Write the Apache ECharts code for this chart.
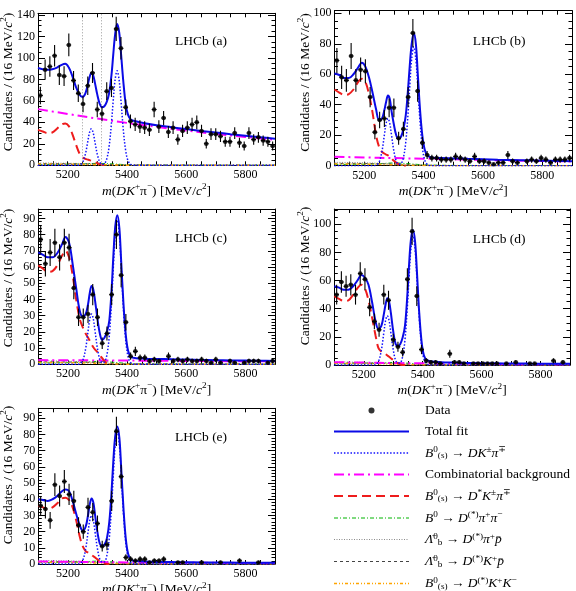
<!DOCTYPE html>
<html>
<head>
<meta charset="utf-8">
<script src="https://cdn.jsdelivr.net/npm/echarts@6.0.0/dist/echarts.min.js"></script>
<style>
  html, body { margin: 0; padding: 0; background: #fff; }
  #chart { width: 576px; height: 591px; }
</style>
</head>
<body>
<div id="chart"></div>
<script>
// binning of m(DK+pi-): 50 bins of 16 MeV from 5100 to 5900
const binLo = 5100
const binW = 16
const xLabels = [5200, 5400, 5600, 5800]

// data (candidates per bin)
const countsA = [65, 89, 92, 102, 84, 83, 112, 79, 67, 57, 74, 86, 52, 48, 69, 72, 127, 109, 54,
  41, 38, 36, 35, 33, 52, 36, 44, 31, 35, 24, 32, 35, 38, 40, 32, 20, 29, 29, 27, 22, 22, 30, 21, 18, 30, 24, 26, 23, 22, 18]
const countsB = [69, 58, 56, 72, 56, 63, 62, 45, 22, 30, 31, 38, 38, 18, 24, 45, 87, 49, 15,
  7, 5, 5, 4, 4, 4, 6, 5, 4, 3, 6, 3, 3, 2, 1, 2, 2, 7, 3, 2, 0, 3, 4, 3, 5, 4, 2, 4, 4, 4, 5]
const countsC = [77, 62, 69, 75, 66, 75, 72, 47, 29, 29, 31, 43, 29, 13, 19, 43, 80, 55, 26,
  5, 8, 4, 4, 2, 3, 2, 0, 5, 2, 3, 2, 3, 2, 2, 3, 2, 1, 3, 1, 0, 2, 1, 0, 1, 2, 2, 2, 0, 1, 2]
const countsD = [50, 59, 56, 57, 50, 65, 61, 41, 31, 25, 50, 46, 18, 13, 9, 61, 95, 49, 11,
  3, 2, 2, 1, 0, 8, 2, 2, 1, 0, 1, 1, 1, 1, 1, 1, 0, 1, 0, 2, 0, 0, 1, 1, 0, 0, 0, 3, 0, 2, 0]
const countsE = [36, 34, 27, 49, 42, 51, 43, 39, 24, 20, 35, 32, 25, 11, 12, 39, 82, 54, 4,
  3, 2, 3, 3, 1, 2, 2, 3, 0, 0, 1, 1, 0, 0, 0, 1, 0, 0, 0, 1, 0, 0, 0, 2, 0, 0, 0, 1, 0, 0, 0]

// fit curves, sampled at fitX
const fitX = [5100, 5116, 5132, 5148, 5164, 5180, 5192, 5204, 5216, 5228, 5240, 5250, 5260, 5268, 5274,
  5280, 5286, 5292, 5300, 5308, 5316, 5324, 5332, 5340, 5348, 5354, 5360, 5367, 5374, 5380,
  5388, 5396, 5404, 5414, 5430, 5460, 5500, 5550, 5600, 5650, 5700, 5750, 5800, 5850, 5900]

const totalA = [90.5, 89.5, 89, 89.5, 91, 93.5, 94.5, 91, 83, 73, 66, 63.5, 67, 75, 82,
  86, 84, 77, 66, 57.5, 54, 55, 59, 67, 84, 103, 121, 131.5, 124, 105,
  78, 57, 47, 42.5, 41, 39.2, 37.3, 35.5, 33.7, 32, 30.5, 29, 27.6, 26.2, 24.8]
const totalB = [60.5, 59.5, 57.5, 57.5, 60, 64.5, 67.5, 65, 58, 48, 37, 30, 31, 36.5, 42,
  46, 44, 36, 27, 20, 17.5, 19, 24, 33, 51, 67, 80, 87, 80, 62,
  37, 19.5, 10.5, 6.5, 5.3, 5, 4.8, 4.5, 4.2, 3.9, 3.7, 3.5, 3.3, 3.1, 3.0]
const totalC = [69, 67.5, 66, 66, 68.5, 74, 78.5, 75, 62, 47, 33, 29.5, 31, 37, 44,
  48.3, 46, 39, 28, 19, 15, 16.5, 20, 27, 47, 68, 85, 92, 84, 64,
  37, 17.5, 8, 4.5, 3.8, 3.5, 3.3, 3.1, 2.9, 2.7, 2.5, 2.4, 2.3, 2.2, 2.1]
const totalD = [56, 55, 53.5, 53.5, 56, 60.5, 64, 62, 57, 45, 31, 25.5, 28, 36, 43,
  47.5, 45, 37, 24, 15, 13.5, 15, 19.5, 28, 50, 72, 89, 96, 88, 68,
  38, 17, 7, 3.5, 2.5, 2.0, 1.7, 1.5, 1.3, 1.2, 1.1, 1.0, 0.9, 0.85, 0.8]
const totalE = [40, 39.5, 39, 40, 42, 45, 46, 45, 39, 31, 24, 20.5, 23, 30, 37,
  40.5, 38, 30, 19.5, 12.5, 11, 12, 16, 26, 46, 65, 79, 85, 78, 60,
  34, 15, 6, 2.5, 1.8, 1.5, 1.3, 1.2, 1.1, 1.0, 0.9, 0.85, 0.8, 0.75, 0.7]

const sigA = [0, 0, 0, 0, 0, 0, 0, 0, 0, 0, 0.3, 2.4, 10.5, 22, 30.6,
  34, 30.6, 22, 10.5, 3.3, 0.8, 1.5, 5.8, 17.4, 39.4, 60.5, 79, 88, 79, 60.5,
  33, 13.6, 4.2, 0.7, 0, 0, 0, 0, 0, 0, 0, 0, 0, 0, 0]
const sigB = [0, 0, 0, 0, 0, 0, 0, 0, 0, 0, 0.3, 2.2, 9.6, 20.2, 27.9,
  31, 27.9, 20.2, 9.6, 3, 1.0, 1.35, 5.1, 15.4, 35, 53.6, 70, 78, 70, 53.6,
  29.3, 12, 3.7, 0.6, 0, 0, 0, 0, 0, 0, 0, 0, 0, 0, 0]
const sigC = [0, 0, 0, 0, 0, 0, 0, 0, 0, 0, 0.3, 2.2, 9.6, 20.2, 27.9,
  31, 27.9, 20.2, 9.6, 3, 1.0, 1.5, 5.9, 17.6, 39.9, 61.1, 79.8, 89, 79.8, 61.1,
  33.4, 13.7, 4.3, 0.7, 0, 0, 0, 0, 0, 0, 0, 0, 0, 0, 0]
const sigD = [0, 0, 0, 0, 0, 0, 0, 0, 0, 0, 0.3, 2.5, 10.9, 22.8, 31.5,
  35, 31.5, 22.8, 10.9, 3.4, 1.35, 1.6, 6.1, 18.2, 41.2, 63.2, 82.5, 92, 82.5, 63.2,
  34.5, 14.2, 4.4, 0.7, 0, 0, 0, 0, 0, 0, 0, 0, 0, 0, 0]
const sigE = [0, 0, 0, 0, 0, 0, 0, 0, 0, 0, 0.3, 2.1, 9.3, 19.5, 27,
  30, 27, 19.5, 9.3, 2.9, 1.2, 1.4, 5.4, 16.2, 36.7, 56.3, 73.6, 82, 73.6, 56.3,
  30.8, 12.6, 3.9, 0.6, 0, 0, 0, 0, 0, 0, 0, 0, 0, 0, 0]

// B0(s) -> D* K pi (only below 5340)
const dstA = [33, 31.5, 30, 30.5, 34, 38, 39, 36.5, 29, 19.5, 11, 7.5, 6, 5.3, 4.8,
  4.2, 3.6, 2.9, 2, 1.2, 0.6, 0.2, 0, 0]
const dstB = [50, 48, 46.5, 47, 50, 55, 57, 55, 47, 35, 20, 12.5, 9, 8, 7.3,
  6.8, 6, 4.8, 3.2, 2, 1, 0.3, 0, 0]
const dstC = [61, 59, 57, 57.5, 61, 67, 70, 66, 55, 40, 28, 23, 19, 16.5, 14.5,
  12.5, 10.5, 9, 7.5, 5.5, 3.8, 2, 0.7, 0]
const dstD = [49, 47, 45.5, 46, 50, 55, 57, 54.5, 46, 34, 21, 12, 9.5, 8.5, 7.8,
  6.8, 5.8, 4.8, 3.5, 2.2, 1.2, 0.4, 0, 0]
const dstE = [36, 35, 34, 35, 37.5, 40.5, 41, 39.5, 35, 27, 17, 11, 8, 7, 6.3,
  5.6, 4.8, 4, 2.8, 1.7, 0.8, 0.3, 0, 0]

// combinatorial background, sampled at bkgX
const bkgX = [5100, 5200, 5300, 5400, 5500, 5600, 5700, 5800, 5900]
const combA = [52.3, 47.8, 43.5, 39.5, 35.8, 32.3, 29.2, 26.4, 23.8]
const combB = [5.9, 5.4, 5.0, 4.6, 4.2, 3.8, 3.4, 3.1, 2.8]
const combC = [2.6, 2.5, 2.4, 2.3, 2.2, 2.1, 2.0, 1.9, 1.8]
const combD = [2.0, 1.7, 1.4, 1.2, 1.0, 0.8, 0.6, 0.5, 0.4]
const combE = [1.6, 1.4, 1.2, 1.0, 0.9, 0.8, 0.7, 0.6, 0.5]

// small peaking backgrounds (same shape in every panel), sampled at lowX
const lowX = [5100, 5150, 5200, 5250, 5300, 5350, 5400, 5500, 5900]
const bgDpipi = [0.8, 0.9, 1.0, 1.3, 1.8, 1.3, 0.6, 0.2, 0.1]
const bgLbDpip = [2.2, 2.1, 1.9, 1.6, 1.0, 0.5, 0.2, 0.1, 0]
const bgLbDKp = [1.5, 1.5, 1.4, 1.3, 1.0, 0.6, 0.3, 0.1, 0]
const bgDKK = [1.2, 1.1, 1.0, 0.9, 0.6, 0.3, 0.1, 0, 0]

// vertical guide lines in panel (a)
const guidesA = [5248, 5312]

const SERIF = "'Liberation Serif', 'DejaVu Serif', serif"
const N_DATA = 'Data'
const N_TOT = 'Total fit'
const N_SIG = 'B0(s) -> DKpi'
const N_COMB = 'Combinatorial background'
const N_DST = 'B0(s) -> D*Kpi'
const N_DPP = 'B0 -> D(*)pipi'
const N_LDP = 'Lb -> D(*)pip'
const N_LDK = 'Lb -> D(*)Kp'
const N_DKK = 'B0(s) -> D(*)KK'

function rich (size, lh) {
  const sl = Math.round(lh * 0.58)
  return {
    n: { fontFamily: SERIF, fontSize: size, lineHeight: lh, color: '#000' },
    i: { fontFamily: SERIF, fontSize: size, fontStyle: 'italic', lineHeight: lh, color: '#000' },
    sup: { fontFamily: SERIF, fontSize: size * 0.68, lineHeight: sl, verticalAlign: 'top', color: '#000' },
    sub: { fontFamily: SERIF, fontSize: size * 0.68, lineHeight: sl, verticalAlign: 'bottom', color: '#000' },
    sp: { width: 11, fontSize: size, lineHeight: lh }
  }
}

const legendText = {}
legendText[N_DATA] = '{n|Data}'
legendText[N_TOT] = '{n|Total fit}'
legendText[N_SIG] = '{i|B}{sup|0}{sub|(s)}{n| → }{i|DK}{sup|±}{i|π}{sup|∓}'
legendText[N_COMB] = '{n|Combinatorial background}'
legendText[N_DST] = '{i|B}{sup|0}{sub|(s)}{n| → }{i|D}{sup|*}{i|K}{sup|±}{i|π}{sup|∓}'
legendText[N_DPP] = '{i|B}{sup|0}{n| → }{i|D}{sup|(*)}{i|π}{sup|+}{i|π}{sup|−}'
legendText[N_LDP] = '{i|Λ̄}{sup|0}{sub|b}{n| → }{i|D}{sup|(*)}{i|π}{sup|+}{i|p̄}'
legendText[N_LDK] = '{i|Λ̄}{sup|0}{sub|b}{n| → }{i|D}{sup|(*)}{i|K}{sup|+}{i|p̄}'
legendText[N_DKK] = '{i|B}{sup|0}{sub|(s)}{n| → }{i|D}{sup|(*)}{i|K}{sup|+}{i|K}{sup|−}'

const xTitle = '{i|m}{n|(}{i|DK}{sup|+}{n|π}{sup|−}{n|) [MeV/}{i|c}{sup|2}{n|]}'
const yTitle = '{n|Candidates / (16 MeV/}{i|c}{sup|2}{n|)}'

const panels = [
  { grid: { left: 38, top: 13.3, width: 237, height: 152 }, yMax: 141.5, yStep: 20, ySplit: 4,
    counts: countsA, total: totalA, sig: sigA, dst: dstA, comb: combA, guides: guidesA,
    tag: 'LHCb (a)', tagAt: [175, 41.7], yTitleAt: [8.3, 82] },
  { grid: { left: 334.5, top: 10.7, width: 237.5, height: 155 }, yMax: 101.7, yStep: 20, ySplit: 4,
    counts: countsB, total: totalB, sig: sigB, dst: dstB, comb: combB,
    tag: 'LHCb (b)', tagAt: [472.7, 41.7], yTitleAt: [305, 82.5] },
  { grid: { left: 38.3, top: 209, width: 236.7, height: 155.3 }, yMax: 95.8, yStep: 10, ySplit: 5,
    counts: countsC, total: totalC, sig: sigC, dst: dstC, comb: combC,
    tag: 'LHCb (c)', tagAt: [175, 238.3], yTitleAt: [8.3, 278] },
  { grid: { left: 334.3, top: 209, width: 235.7, height: 156 }, yMax: 110.9, yStep: 20, ySplit: 4,
    counts: countsD, total: totalD, sig: sigD, dst: dstD, comb: combD,
    tag: 'LHCb (d)', tagAt: [472.7, 239], yTitleAt: [305, 276] },
  { grid: { left: 38.3, top: 408.3, width: 236.7, height: 155.7 }, yMax: 96.2, yStep: 10, ySplit: 5,
    counts: countsE, total: totalE, sig: sigE, dst: dstE, comb: combE,
    tag: 'LHCb (e)', tagAt: [175, 437.3], yTitleAt: [8.3, 475] }
]

function pairs (xs, ys) {
  const out = []
  for (let i = 0; i < ys.length; i++) {
    if (ys[i] != null) out.push([xs[i], ys[i]])
  }
  return out
}

const grids = []
const xAxes = []
const yAxes = []
const series = []
const graphics = []

panels.forEach(function (p, k) {
  grids.push(Object.assign({ outerBoundsMode: 'none', containLabel: false }, p.grid))

  const xBase = {
    gridIndex: k, type: 'value', min: 5100, max: 5900, interval: 50,
    axisLine: { show: true, onZero: false, lineStyle: { color: '#000', width: 1 } },
    axisTick: { show: true, inside: true, length: 4, lineStyle: { color: '#000', width: 1 } },
    splitLine: { show: false }
  }
  xAxes.push(Object.assign({}, xBase, {
    position: 'bottom',
    axisLabel: {
      fontFamily: SERIF, fontSize: 12, color: '#000', margin: 4,
      formatter: function (v) { return xLabels.indexOf(v) >= 0 ? String(v) : '' }
    },
    name: xTitle, nameLocation: 'middle', nameGap: 12,
    nameTextStyle: { rich: rich(13.5, 18) }
  }))
  xAxes.push(Object.assign({}, xBase, { position: 'top', axisLabel: { show: false } }))

  const yBase = {
    gridIndex: k, type: 'value', min: 0, max: p.yMax, interval: p.yStep,
    axisLine: { show: true, onZero: false, lineStyle: { color: '#000', width: 1 } },
    axisTick: { show: true, inside: true, length: 7, lineStyle: { color: '#000', width: 1 } },
    minorTick: { show: true, splitNumber: p.ySplit, length: 3.5, lineStyle: { color: '#000', width: 1 } },
    splitLine: { show: false }
  }
  yAxes.push(Object.assign({}, yBase, {
    position: 'left',
    axisLabel: {
      fontFamily: SERIF, fontSize: 12, color: '#000', margin: 3,
      formatter: function (v) { return v % p.yStep === 0 ? String(v) : '' }
    }
  }))
  yAxes.push(Object.assign({}, yBase, { position: 'right', axisLabel: { show: false } }))

  const ax = { xAxisIndex: 2 * k, yAxisIndex: 2 * k }
  const line = function (name, xs, ys, color, width, type, z) {
    return Object.assign({
      type: 'line', name: name, data: pairs(xs, ys), symbol: 'none', showSymbol: false,
      smooth: 0.35, clip: true, silent: true, z: z,
      lineStyle: { color: color, width: width, type: type },
      itemStyle: { color: color }
    }, ax)
  }

  series.push(line(N_DPP, lowX, bgDpipi, '#00b400', 1, [4, 2, 1, 2], 2))
  series.push(line(N_LDP, lowX, bgLbDpip, '#8a8a8a', 1, [1, 1.5], 2))
  series.push(line(N_LDK, lowX, bgLbDKp, '#444444', 1, [3, 3], 2))
  series.push(line(N_DKK, lowX, bgDKK, '#ffa500', 1.5, [3, 2, 1, 2, 1, 2], 2))
  series.push(line(N_COMB, bkgX, p.comb, '#ff00ff', 2, [10, 4, 2, 4], 3))
  series.push(line(N_DST, fitX, p.dst, '#ee1c1c', 2, [9, 5], 3))
  series.push(line(N_SIG, fitX, p.sig, '#1010ff', 1.5, [1.5, 1.8], 4))
  const tot = line(N_TOT, fitX, p.total, '#0a0ae6', 2, 'solid', 5)
  if (p.guides) {
    tot.markLine = {
      silent: true, symbol: 'none', animation: false,
      label: { show: false },
      lineStyle: { color: '#999', width: 1, type: [1, 2] },
      data: p.guides.map(function (g) { return { xAxis: g } })
    }
  }
  series.push(tot)

  const pts = []
  p.counts.forEach(function (n, i) {
    if (n > 0) pts.push([binLo + binW * (i + 0.5), n])
  })
  series.push(Object.assign({
    type: 'scatter', name: N_DATA, data: pts, symbol: 'circle', symbolSize: 4.5,
    itemStyle: { color: '#000' }, z: 10, silent: true
  }, ax))
  series.push(Object.assign({
    type: 'custom', name: 'Data errors', clip: true, z: 9, silent: true,
    data: pts.map(function (d) { return [d[0], d[1], Math.sqrt(d[1])] }),
    renderItem: function (params, api) {
      const x = api.value(0)
      const y = api.value(1)
      const e = api.value(2)
      const top = api.coord([x, y + e])
      const bot = api.coord([x, y - e])
      const l = api.coord([x - binW / 2, y])
      const r = api.coord([x + binW / 2, y])
      const st = { stroke: '#000', lineWidth: 1.1 }
      return {
        type: 'group',
        children: [
          { type: 'line', shape: { x1: top[0], y1: top[1], x2: bot[0], y2: bot[1] }, style: st },
          { type: 'line', shape: { x1: l[0], y1: l[1], x2: r[0], y2: r[1] }, style: st }
        ]
      }
    }
  }, ax))

  graphics.push({
    type: 'text', x: p.tagAt[0], y: p.tagAt[1], silent: true,
    style: { text: p.tag, fontFamily: SERIF, fontSize: 13.5, fill: '#000', align: 'left', verticalAlign: 'middle' }
  })
  graphics.push({
    type: 'text', x: p.yTitleAt[0], y: p.yTitleAt[1], rotation: Math.PI / 2, silent: true,
    style: { text: yTitle, rich: rich(13.5, 18), align: 'center', verticalAlign: 'middle' }
  })
})

// legend: line entries get an invisible marker so only the line sample shows
const noMarker = { color: 'rgba(0,0,0,0)', borderWidth: 0, opacity: 0 }
const legendItems = [N_DATA, N_TOT, N_SIG, N_COMB, N_DST, N_DPP, N_LDP, N_LDK, N_DKK].map(function (n) {
  return n === N_DATA ? { name: n } : { name: n, itemStyle: noMarker }
})

const chart = echarts.init(document.getElementById('chart'), null, { renderer: 'canvas' })
chart.setOption({
  animation: false,
  backgroundColor: '#fff',
  grid: grids,
  xAxis: xAxes,
  yAxis: yAxes,
  legend: {
    orient: 'vertical', left: 333, top: 403.5, height: 200, padding: 0,
    itemWidth: 75, itemHeight: 6, itemGap: 7,
    selectedMode: false,
    lineStyle: { width: 'inherit' },
    data: legendItems,
    formatter: function (name) { return '{sp| }' + legendText[name] },
    textStyle: { rich: rich(13.5, 15) }
  },
  graphic: graphics,
  series: series
})
</script>
</body>
</html>
